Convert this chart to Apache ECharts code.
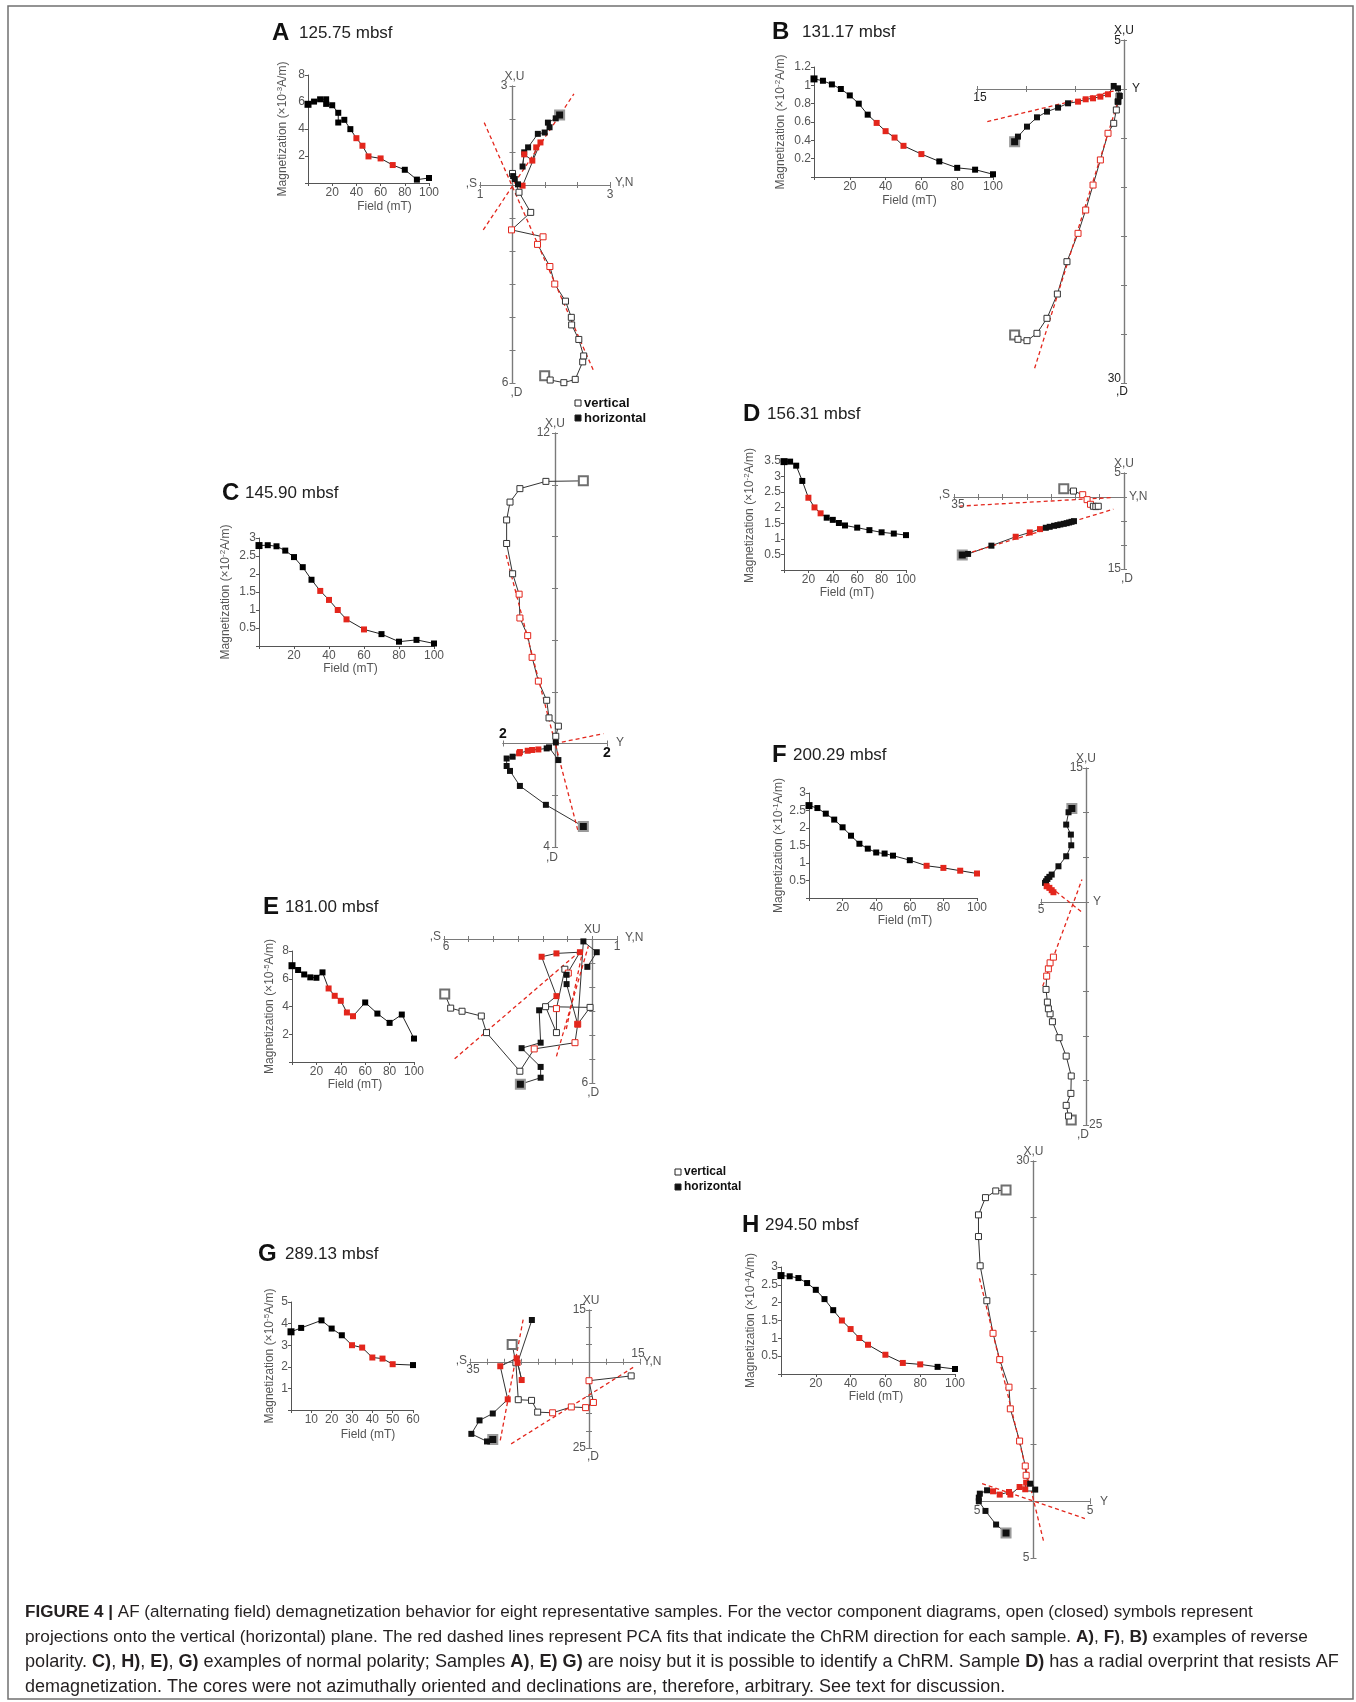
<!DOCTYPE html>
<html>
<head>
<meta charset="utf-8">
<title>Figure 4 – AF demagnetization behaviour</title>
<script src="https://cdn.jsdelivr.net/npm/echarts@6/dist/echarts.min.js"></script>
<style>
html, body { margin: 0; padding: 0; background: #fff; }
#fig { width: 1356px; height: 1702px; }
</style>
</head>
<body>
<div id="fig"></div>
<script>
// ================= measured data =================
// AF steps (mT) shared by most samples
const afSteps = [0, 5, 10, 15, 20, 25, 30, 35, 40, 45, 50, 60, 70, 80, 90, 100];

// --- A: 125.75 mbsf ---
const fieldA = [0, 5, 10, 15, 15, 20, 25, 25, 30, 35, 40, 45, 50, 60, 70, 80, 90, 100];
const magA = [5.83, 6.03, 6.2, 6.2, 5.86, 5.76, 5.2, 4.48, 4.68, 3.99, 3.32, 2.76, 1.97, 1.82, 1.33, 0.98, 0.25, 0.37];
const pcaA = [40, 45, 50, 60, 70];
const horizA = [[1.45, 2.12, 0], [1.33, 2.02, 0], [1.09, 1.89, 0], [1.14, 1.75, 0], [0.99, 1.59, 0], [0.78, 1.55, 0], [0.48, 1.14, 0], [0.36, 0.99, 0], [0.31, 0.56, 0], [0.36, 0.93, 1], [0.61, 0.74, 1], [0.73, 1.14, 1], [0.86, 1.29, 1], [0.31, -0.02, 1], [0.17, 0.02, 0], [0.07, 0.18, 0], [0.02, 0.27, 0]];
const vertA = [[0.99, -5.78, 0], [1.16, -5.91, 0], [1.58, -5.99, 0], [1.93, -5.89, 0], [2.16, -5.36, 0], [2.19, -5.18, 0], [2.04, -4.68, 0], [1.82, -4.24, 0], [1.81, -4.01, 0], [1.63, -3.52, 0], [1.30, -3.00, 1], [1.15, -2.47, 1], [0.77, -1.80, 1], [0.94, -1.57, 1], [-0.03, -1.36, 1], [0.56, -0.83, 0], [0.20, -0.22, 0], [0.00, 0.35, 0]];
const fitA = [[[-0.90, -1.36], [1.89, 2.76]], [[-0.87, 1.89], [2.50, -5.64]]];

// --- B: 131.17 mbsf ---
const magB = [1.07, 1.05, 1.01, 0.96, 0.89, 0.80, 0.68, 0.59, 0.50, 0.43, 0.34, 0.25, 0.17, 0.10, 0.08, 0.03];
const pcaB = [35, 40, 45, 50, 60];
const horizB = [[-11.16, -5.37, 0], [-10.82, -4.86, 0], [-9.90, -3.84, 0], [-8.88, -2.89, 0], [-7.86, -2.31, 0], [-6.73, -1.90, 0], [-5.71, -1.46, 0], [-4.69, -1.29, 1], [-3.91, -1.05, 1], [-3.16, -0.95, 1], [-2.41, -0.78, 1], [-1.63, -0.54, 1], [-1.05, 0.31, 0], [-0.61, 0.07, 0], [-0.44, -0.71, 0], [-0.61, -1.29, 0]];
const vertB = [[-11.16, -25.1, 0], [-10.82, -25.54, 0], [-9.90, -25.68, 0], [-8.88, -24.93, 0], [-7.86, -23.40, 0], [-6.80, -20.92, 0], [-5.82, -17.62, 0], [-4.69, -14.73, 1], [-3.91, -12.35, 1], [-3.16, -9.80, 1], [-2.41, -7.24, 1], [-1.63, -4.52, 1], [-1.05, -3.50, 0], [-0.78, -2.14, 0], [-0.61, -1.29, 0], [-0.51, -0.71, 0]];
const fitB = [[[-13.95, -3.33], [-0.61, -0.10]], [[-9.12, -28.5], [-0.51, -0.95]]];

// --- C: 145.90 mbsf ---
const magC = [2.79, 2.80, 2.77, 2.65, 2.47, 2.19, 1.84, 1.53, 1.28, 1.00, 0.74, 0.46, 0.33, 0.12, 0.17, 0.07];
const pcaC = [35, 40, 45, 50, 60];
const horizC = [[1.09, -3.21, 0], [-0.35, -2.37, 0], [-1.35, -1.64, 0], [-1.73, -1.06, 0], [-1.86, -0.87, 0], [-1.86, -0.58, 0], [-1.63, -0.51, 0], [-1.38, -0.38, 1], [-1.35, -0.33, 1], [-1.05, -0.28, 1], [-0.88, -0.25, 1], [-0.64, -0.23, 1], [-0.32, -0.19, 0], [-0.23, -0.15, 0], [0.13, -0.64, 0], [0.03, 0.04, 0]];
const vertC = [[1.09, 10.15, 0], [-0.35, 10.13, 0], [-1.35, 9.85, 0], [-1.73, 9.33, 0], [-1.86, 8.64, 0], [-1.86, 7.73, 0], [-1.63, 6.56, 0], [-1.38, 5.77, 1], [-1.35, 4.85, 1], [-1.05, 4.17, 1], [-0.88, 3.33, 1], [-0.64, 2.41, 1], [-0.32, 1.67, 0], [-0.23, 0.99, 0], [0.13, 0.67, 0], [0.03, 0.28, 0]];
const fitC = [[[-1.88, 7.28], [0.90, -3.44]], [[0, 0], [1.86, 0.38]]];

// --- D: 156.31 mbsf ---
const magD = [3.48, 3.48, 3.35, 2.86, 2.32, 2.01, 1.82, 1.68, 1.61, 1.51, 1.43, 1.36, 1.28, 1.21, 1.17, 1.12];
const pcaD = [20, 25, 30];
const horizD = [[-33.3, -12.07, 0], [-32.1, -11.86, 0], [-27.3, -10.14, 0], [-22.3, -8.28, 1], [-19.4, -7.38, 1], [-17.3, -6.69, 1], [-16.1, -6.41, 0], [-15.3, -6.21, 0], [-14.4, -6.0, 0], [-13.7, -5.86, 0], [-13.1, -5.72, 0], [-12.4, -5.59, 0], [-11.8, -5.45, 0], [-11.3, -5.31, 0], [-10.8, -5.17, 0], [-10.3, -5.03, 0]];
const vertD = [[-12.4, 1.72, 0], [-10.4, 1.24, 0], [-8.5, 0.48, 1], [-7.6, -0.55, 1], [-6.9, -1.52, 1], [-6.3, -1.93, 0], [-5.8, -2.0, 0], [-5.3, -1.93, 0]];
const fitD = [[[-33.8, -1.9], [-2.2, -0.1]], [[-34.0, -12.3], [-2.2, -2.55]]];

// --- E: 181.00 mbsf ---
const magE = [6.94, 6.63, 6.31, 6.10, 6.07, 6.46, 5.30, 4.77, 4.41, 3.57, 3.30, 4.29, 3.49, 2.82, 3.42, 1.69];
const pcaE = [30, 35, 40, 45, 50];
const horizE = [[-2.91, -6.05, 0], [-2.09, -5.78, 0], [-2.09, -5.33, 0], [-2.86, -4.55, 0], [-2.09, -4.32, 0], [-2.15, -2.97, 0], [-1.45, -2.38, 1], [-2.05, -0.74, 1], [-1.45, -0.60, 1], [-0.50, -0.55, 1], [-1.04, -1.49, 0], [-1.04, -1.88, 0], [-0.59, -3.55, 1], [-0.36, -0.10, 0], [0.18, -0.55, 0], [-0.20, -1.16, 0]];
const vertE = [[-5.97, -2.29, 0], [-5.73, -2.88, 0], [-5.27, -3.01, 0], [-4.49, -3.21, 0], [-4.28, -3.90, 0], [-2.93, -5.51, 0], [-2.35, -4.58, 1], [-0.70, -4.32, 1], [-0.59, -3.55, 1], [-0.09, -2.85, 0], [-1.89, -2.82, 0], [-1.45, -3.90, 0], [-1.45, -2.90, 1], [-1.11, -1.26, 0], [-0.97, -1.42, 1]];
const fitE = [[[-5.57, -4.99], [-0.50, -0.51]], [[-1.45, -4.89], [-0.16, -0.30]], [[-1.05, -3.75], [-0.40, -0.55]]];

// --- F: 200.29 mbsf ---
const magF = [2.64, 2.57, 2.41, 2.24, 2.02, 1.78, 1.55, 1.41, 1.30, 1.27, 1.21, 1.08, 0.92, 0.86, 0.78, 0.70];
const pcaF = [70, 80, 90, 100];
const horizF = [[-1.57, 10.45, 0], [-1.94, 10.04, 0], [-2.20, 8.66, 0], [-1.68, 7.54, 0], [-1.64, 6.34, 0], [-2.20, 5.11, 0], [-3.06, 3.99, 0], [-3.81, 3.06, 0], [-4.07, 2.80, 0], [-4.29, 2.57, 0], [-4.44, 2.31, 0], [-4.55, 2.13, 0], [-4.37, 1.75, 1], [-4.07, 1.57, 1], [-3.81, 1.31, 1], [-3.62, 1.08, 1]];
const vertF = [[-1.64, -24.44, 0], [-1.94, -23.99, 0], [-2.20, -22.80, 0], [-1.68, -21.46, 0], [-1.64, -19.51, 0], [-2.20, -17.28, 0], [-2.99, -15.22, 0], [-3.73, -13.43, 0], [-3.99, -12.54, 0], [-4.18, -11.98, 0], [-4.29, -11.23, 0], [-4.44, -9.81, 0], [-4.37, -8.32, 1], [-4.18, -7.50, 1], [-3.99, -6.83, 1], [-3.62, -6.19, 1]];
const fitF = [[[-4.81, -9.44], [-0.45, 2.5]], [[-4.55, 2.13], [-0.45, -1.16]]];

// --- G: 289.13 mbsf ---
const fieldG = [0, 5, 15, 20, 25, 30, 35, 40, 45, 50, 60];
const magG = [3.62, 3.80, 4.15, 3.77, 3.46, 3.00, 2.89, 2.43, 2.38, 2.12, 2.08];
const pcaG = [30, 35, 40, 45, 50];
const horizG = [[-28.3, -22.5, 0], [-30.0, -23.1, 0], [-34.6, -20.9, 0], [-32.2, -17.0, 0], [-28.3, -15.0, 0], [-23.9, -10.9, 1], [-26.1, -1.3, 1], [-21.3, 1.0, 1], [-19.8, -5.3, 1], [-21.0, -0.3, 1], [-16.8, 12.1, 0]];
const vertG = [[-22.6, 5.0, 0], [-21.5, -0.3, 0], [-20.8, -11.0, 0], [-16.9, -11.2, 0], [-15.1, -14.6, 0], [-10.7, -14.8, 1], [-5.2, -13.1, 1], [-1.0, -13.3, 1], [1.3, -11.8, 1], [0.0, -5.5, 1], [12.4, -4.1, 0]];
const fitG = [[[-26.1, -22.8], [-19.2, 13.1]], [[-22.9, -23.8], [13.2, -1.5]]];

// --- H: 294.50 mbsf ---
const magH = [2.76, 2.74, 2.69, 2.55, 2.36, 2.10, 1.79, 1.50, 1.26, 1.01, 0.82, 0.54, 0.31, 0.27, 0.20, 0.14];
const pcaH = [35, 40, 45, 50, 60, 70, 80];
const horizH = [[-2.43, -2.79, 0], [-3.31, -2.05, 0], [-4.25, -0.85, 0], [-4.84, 0.0, 0], [-4.84, 0.32, 0], [-4.75, 0.67, 0], [-4.11, 0.97, 0], [-3.58, 0.88, 1], [-2.99, 0.59, 1], [-2.17, 0.82, 1], [-2.05, 0.59, 1], [-1.23, 1.26, 1], [-0.73, 1.06, 1], [-0.65, 1.64, 1], [-0.29, 1.55, 0], [0.15, 1.03, 0]];
const vertH = [[-2.43, 27.45, 0], [-3.34, 27.36, 0], [-4.25, 26.77, 0], [-4.87, 25.25, 0], [-4.87, 23.34, 0], [-4.72, 20.76, 0], [-4.13, 17.68, 0], [-3.58, 14.81, 1], [-2.99, 12.49, 1], [-2.17, 10.06, 1], [-2.05, 8.15, 1], [-1.23, 5.31, 1], [-0.73, 3.11, 1], [-0.65, 2.29, 1], [-0.44, 1.47, 0], [-0.29, 1.17, 0]];
const fitH = [[[-4.78, 19.65], [0.94, -3.72]], [[-4.55, 1.55], [4.55, -1.52]]];

// ================= layout =================
const RED = '#e3261c';
const FONT = '"Liberation Sans", Arial, Helvetica, sans-serif';

// int: intensity-decay plot box; zij: vector component plot box and axis ranges
// label rows: [text, x, y (axis units), dx, dy, align, verticalAlign, bold]
const panels = [
  { id: 'A', depth: '125.75 mbsf', exp: '-3', title: [272, 33, 299],
    field: fieldA, mag: magA, pca: pcaA, horiz: horizA, vert: vertA, fits: fitA,
    int: { left: 308, top: 75, width: 121, height: 108, xMax: 100, xStep: 20, yMax: 8, yStep: 2, gapX: 18, shiftX: 16, gapY: 18 },
    zij: { left: 480, top: 86, width: 130, height: 297, x: [-1, 3, 1], y: [-6, 3, 1],
      labels: [[',S', -1, 0, -3, -1, 'right', 'middle'], ['1', -1, 0, 0, 4, 'center', 'top'], ['Y,N', 3, 0, 5, -2, 'left', 'middle'], ['3', 3, 0, 0, 4, 'center', 'top'],
               ['X,U', 0, 3, 2, -3, 'center', 'bottom'], ['3', 0, 3, -5, 0, 'right', 'middle'], ['6', 0, -6, -4, 0, 'right', 'middle'], [',D', 0, -6, 4, 4, 'center', 'top']] } },
  { id: 'B', depth: '131.17 mbsf', exp: '-2', title: [772, 32, 802],
    field: afSteps, mag: magB, pca: pcaB, horiz: horizB, vert: vertB, fits: fitB,
    int: { left: 814, top: 67, width: 179, height: 110, xMax: 100, xStep: 20, yMax: 1.2, yStep: 0.2, gapX: 18, shiftX: 6, gapY: 26 },
    zij: { left: 977, top: 40, width: 147, height: 343, x: [-15, 0, 5], y: [-30, 5, 5], color: '#222',
      labels: [['X,U', 0, 5, 0, -3, 'center', 'bottom'], ['5', 0, 5, -3, 1, 'right', 'middle'], ['Y', 0, 0, 8, 0, 'left', 'middle'], ['15', -15, 0, 3, 3, 'center', 'top'],
               ['30', 0, -30, -3, -4, 'right', 'middle'], [',D', 0, -30, -2, 3, 'center', 'top']] } },
  { id: 'C', depth: '145.90 mbsf', exp: '-2', title: [222, 493, 245],
    field: afSteps, mag: magC, pca: pcaC, horiz: horizC, vert: vertC, fits: fitC,
    int: { left: 259, top: 538, width: 175, height: 108, xMax: 100, xStep: 20, yMax: 3, yStep: 0.5, gapX: 16, shiftX: 4, gapY: 26 },
    zij: { left: 503, top: 433, width: 104, height: 414, x: [-2, 2, 2], y: [-4, 12, 2],
      labels: [['X,U', 0, 12, 0, -3, 'center', 'bottom'], ['12', 0, 12, -5, 0, 'right', 'middle'], ['2', -2, 0, 0, -2, 'center', 'bottom', 1], ['2', 2, 0, 0, 3, 'center', 'top', 1],
               ['Y', 2, 0, 9, -1, 'left', 'middle'], ['4', 0, -4, -5, 0, 'right', 'middle'], [',D', 0, -4, -3, 5, 'center', 'top']] } },
  { id: 'D', depth: '156.31 mbsf', exp: '-2', title: [743, 414, 767],
    field: afSteps, mag: magD, pca: pcaD, horiz: horizD, vert: vertD, fits: fitD,
    int: { left: 784, top: 461, width: 122, height: 109, xMax: 100, xStep: 20, yMax: 3.5, yStep: 0.5, gapX: 16, shiftX: 2, gapY: 27 },
    zij: { left: 954, top: 473, width: 170, height: 96, x: [-35, 0, 5], y: [-15, 5, 5],
      labels: [[',S', -35, 0, -4, -2, 'right', 'middle'], ['35', -35, 0, 4, 2, 'center', 'top'], ['Y,N', 0, 0, 5, 0, 'left', 'middle'], ['X,U', 0, 5, 0, -3, 'center', 'bottom'],
               ['5', 0, 5, -3, 0, 'right', 'middle'], ['15', 0, -15, -3, 0, 'right', 'middle'], [',D', 0, -15, 3, 4, 'center', 'top']] } },
  { id: 'E', depth: '181.00 mbsf', exp: '-5', title: [263, 907, 285],
    field: afSteps, mag: magE, pca: pcaE, horiz: horizE, vert: vertE, fits: fitE,
    int: { left: 292, top: 951, width: 122, height: 111, xMax: 100, xStep: 20, yMax: 8, yStep: 2, gapX: 9, shiftX: 2, gapY: 15 },
    zij: { left: 444, top: 939, width: 173, height: 144, x: [-6, 1, 1], y: [-6, 0, 1],
      labels: [[',S', -6, 0, -3, -2, 'right', 'middle'], ['6', -6, 0, 2, 2, 'center', 'top'], ['XU', 0, 0, 0, -3, 'center', 'bottom'], ['1', 1, 0, 0, 2, 'center', 'top'],
               ['Y,N', 1, 0, 8, -1, 'left', 'middle'], ['6', 0, -6, -4, 0, 'right', 'middle'], [',D', 0, -6, 1, 4, 'center', 'top']] } },
  { id: 'F', depth: '200.29 mbsf', exp: '-1', title: [772, 755, 793],
    field: afSteps, mag: magF, pca: pcaF, horiz: horizF, vert: vertF, fits: fitF,
    int: { left: 809, top: 793, width: 168, height: 105, xMax: 100, xStep: 20, yMax: 3, yStep: 0.5, gapX: 16, shiftX: 12, gapY: 22 },
    zij: { left: 1041, top: 768, width: 45, height: 357, x: [-5, 0, 5], y: [-25, 15, 5],
      labels: [['X,U', 0, 15, 0, -3, 'center', 'bottom'], ['15', 0, 15, -3, 0, 'right', 'middle'], ['Y', 0, 0, 7, 0, 'left', 'middle'], ['5', -5, 0, 0, 2, 'center', 'top'],
               ['25', 0, -25, 3, 0, 'left', 'middle'], [',D', 0, -25, -3, 4, 'center', 'top']] } },
  { id: 'G', depth: '289.13 mbsf', exp: '-5', title: [258, 1254, 285],
    field: fieldG, mag: magG, pca: pcaG, horiz: horizG, vert: vertG, fits: fitG,
    int: { left: 291, top: 1302, width: 122, height: 108, xMax: 60, xStep: 10, yMax: 5, yStep: 1, gapX: 19, shiftX: 16, gapY: 14 },
    zij: { left: 470, top: 1310, width: 170, height: 138, x: [-35, 15, 5], y: [-25, 15, 5],
      labels: [['XU', 0, 15, 2, -3, 'center', 'bottom'], ['15', 0, 15, -3, 0, 'right', 'middle'], [',S', -35, 0, -3, -1, 'right', 'middle'], ['35', -35, 0, 3, 2, 'center', 'top'],
               ['15', 15, 0, -2, -2, 'center', 'bottom'], ['Y,N', 15, 0, 3, 0, 'left', 'middle'], ['25', 0, -25, -3, 0, 'right', 'middle'], [',D', 0, -25, 4, 3, 'center', 'top']] } },
  { id: 'H', depth: '294.50 mbsf', exp: '-4', title: [742, 1225, 765],
    field: afSteps, mag: magH, pca: pcaH, horiz: horizH, vert: vertH, fits: fitH,
    int: { left: 781, top: 1267, width: 174, height: 107, xMax: 100, xStep: 20, yMax: 3, yStep: 0.5, gapX: 17, shiftX: 8, gapY: 23 },
    zij: { left: 977, top: 1161, width: 113, height: 397, x: [-5, 5, 5], y: [-5, 30, 5],
      labels: [['X,U', 0, 30, 0, -3, 'center', 'bottom'], ['30', 0, 30, -4, 0, 'right', 'middle'], ['5', -5, 0, 0, 3, 'center', 'top'], ['5', 5, 0, 0, 3, 'center', 'top'],
               ['Y', 5, 0, 10, 0, 'left', 'middle'], ['5', 0, -5, -4, 0, 'right', 'middle']] } }
];

// ================= build option =================
const grids = [], xAxes = [], yAxes = [], series = [], zijRefs = [];
const INT_AXIS = '#555';
const ZIJ_AXIS = '#7a7a7a';

function tickFmt(v) { return v === 0 ? '' : String(+v.toFixed(2)); }

function zijItem(pt, i, open) {
  const fit = pt[2] === 1, nrm = i === 0;
  if (open) {
    return { value: [pt[0], pt[1]], symbolSize: nrm ? 9 : 6,
      itemStyle: { color: '#fff', borderColor: nrm ? '#6f6f6f' : (fit ? RED : '#333'), borderWidth: nrm ? 2 : 1 } };
  }
  return { value: [pt[0], pt[1]], symbolSize: nrm ? 9 : 6,
    itemStyle: { color: fit ? RED : '#111', borderColor: nrm ? '#9a9a9a' : (fit ? RED : '#111'), borderWidth: nrm ? 2 : 0 } };
}

panels.forEach(p => {
  // ---- intensity decay plot ----
  const L = p.int;
  const gi = grids.length;
  grids.push({ left: L.left, top: L.top, width: L.width, height: L.height });
  const xi = xAxes.length, yi = yAxes.length;
  xAxes.push({
    gridIndex: gi, type: 'value', min: 0, max: L.xMax, interval: L.xStep,
    axisLine: { onZero: false, lineStyle: { color: INT_AXIS, width: 1 } },
    axisTick: { length: 3, lineStyle: { color: INT_AXIS } },
    axisLabel: { color: '#555', fontSize: 12, margin: 4, formatter: tickFmt },
    splitLine: { show: false },
    name: 'Field (mT)', nameLocation: 'middle', nameGap: L.gapX,
    nameTextStyle: { color: '#555', fontSize: 12, padding: [0, 0, 0, 2 * L.shiftX] }
  });
  yAxes.push({
    gridIndex: gi, type: 'value', min: 0, max: L.yMax, interval: L.yStep,
    axisLine: { onZero: false, lineStyle: { color: INT_AXIS, width: 1 } },
    axisTick: { length: 3, lineStyle: { color: INT_AXIS } },
    axisLabel: { color: '#555', fontSize: 12, margin: 3, formatter: tickFmt },
    splitLine: { show: false },
    name: 'Magnetization (×10{s|' + p.exp + '}A/m)', nameLocation: 'middle', nameGap: L.gapY,
    nameTextStyle: { color: '#555', fontSize: 12, lineHeight: 14,
      rich: { s: { fontSize: 8, lineHeight: 8, verticalAlign: 'top', color: '#555' } } }
  });
  series.push({
    type: 'line', xAxisIndex: xi, yAxisIndex: yi, symbol: 'rect', showAllSymbol: true,
    clip: false, silent: true, lineStyle: { color: '#222', width: 1 },
    data: p.field.map((f, i) => ({ value: [f, p.mag[i]], symbolSize: i === 0 ? 7 : 6,
      itemStyle: { color: p.pca.indexOf(f) >= 0 ? RED : '#000' } }))
  });

  // ---- vector component (Zijderveld) plot ----
  const Z = p.zij;
  const gz = grids.length;
  grids.push({ left: Z.left, top: Z.top, width: Z.width, height: Z.height });
  const zx = xAxes.length, zy = yAxes.length;
  const base = (rng) => ({ type: 'value', min: rng[0], max: rng[1], interval: rng[2],
    axisTick: { length: 3, lineStyle: { color: ZIJ_AXIS } }, axisLabel: { show: false }, splitLine: { show: false } });
  // paired axes on both sides give ticks that cross the axis line
  ['bottom', 'top'].forEach(pos => xAxes.push(Object.assign(base(Z.x), { gridIndex: gz, position: pos,
    axisLine: { onZero: true, onZeroAxisIndex: zy, lineStyle: { color: ZIJ_AXIS, width: 1.2 } } })));
  ['left', 'right'].forEach(pos => yAxes.push(Object.assign(base(Z.y), { gridIndex: gz, position: pos,
    axisLine: { onZero: true, onZeroAxisIndex: zx, lineStyle: { color: ZIJ_AXIS, width: 1.2 } } })));
  zijRefs.push({ p, xi: zx, yi: zy });

  series.push({ type: 'line', xAxisIndex: zx, yAxisIndex: zy, symbol: 'rect', showAllSymbol: true,
    clip: false, silent: true, lineStyle: { color: '#333', width: 1 },
    data: p.vert.map((pt, i) => zijItem(pt, i, true)) });
  series.push({ type: 'line', xAxisIndex: zx, yAxisIndex: zy, symbol: 'rect', showAllSymbol: true,
    clip: false, silent: true, lineStyle: { color: '#333', width: 1 },
    data: p.horiz.map((pt, i) => zijItem(pt, i, false)) });
  p.fits.forEach(seg => series.push({ type: 'line', xAxisIndex: zx, yAxisIndex: zy, symbol: 'none',
    clip: false, silent: true, z: 3, lineStyle: { color: RED, width: 1.3, type: [4, 3] }, data: seg }));
});

const chart = echarts.init(document.getElementById('fig'), null, { renderer: 'canvas', width: 1356, height: 1702 });
chart.setOption({
  animation: false,
  backgroundColor: '#ffffff',
  textStyle: { fontFamily: FONT },
  grid: grids, xAxis: xAxes, yAxis: yAxes, series: series
});

// ================= annotations =================
function txt(t, x, y, o) {
  o = o || {};
  return { type: 'text', x: x, y: y, silent: true, z: 10,
    style: { text: t, fill: o.fill || '#222', fontFamily: FONT, fontSize: o.size || 12,
      fontWeight: o.bold ? 'bold' : 'normal', align: o.align || 'left', verticalAlign: o.va || 'middle',
      textAlign: o.align || 'left', textVerticalAlign: o.va || 'middle', rich: o.rich } };
}
function square(x, y, open) {
  return { type: 'rect', silent: true, z: 10, shape: { x: x - 3, y: y - 3, width: 6, height: 6 },
    style: { fill: open ? '#fff' : '#111', stroke: '#222', lineWidth: 1 } };
}

const gfx = [];
// figure frame
gfx.push({ type: 'rect', silent: true, z: 0, shape: { x: 8, y: 6, width: 1345, height: 1693 },
  style: { fill: 'none', stroke: '#707070', lineWidth: 1.5 } });

// panel titles
panels.forEach(p => {
  gfx.push(txt(p.id, p.title[0], p.title[1], { size: 24, bold: true, fill: '#111' }));
  gfx.push(txt(p.depth, p.title[2], p.title[1], { size: 17, fill: '#222' }));
});

// axis end labels of the vector component plots
zijRefs.forEach(({ p, xi, yi }) => {
  p.zij.labels.forEach(([t, x, y, dx, dy, align, va, bold]) => {
    const pt = chart.convertToPixel({ xAxisIndex: xi, yAxisIndex: yi }, [x, y]);
    gfx.push(txt(t, pt[0] + dx, pt[1] + dy, { align: align, va: va, bold: !!bold,
      size: bold ? 14 : 12, fill: bold ? '#111' : (p.zij.color || '#555') }));
  });
});

// symbol keys
[[578, 403, 13], [678, 1172, 12]].forEach(([x, y, fs]) => {
  gfx.push(square(x, y, true));
  gfx.push(txt('vertical', x + 6, y, { bold: true, size: fs, fill: '#111' }));
  gfx.push(square(x, y + 15, false));
  gfx.push(txt('horizontal', x + 6, y + 15, { bold: true, size: fs, fill: '#111' }));
});

// caption (one entry per printed line, with its set size)
const caption = [
  ['{b|FIGURE 4 |} AF (alternating field) demagnetization behavior for eight representative samples. For the vector component diagrams, open (closed) symbols represent', 17.05],
  ['projections onto the vertical (horizontal) plane. The red dashed lines represent PCA fits that indicate the ChRM direction for each sample. {b|A)}, {b|F)}, {b|B)} examples of reverse', 17.25],
  ['polarity. {b|C)}, {b|H)}, {b|E)}, {b|G)} examples of normal polarity; Samples {b|A)}, {b|E) G)} are noisy but it is possible to identify a ChRM. Sample {b|D)} has a radial overprint that resists AF', 18.1],
  ['demagnetization. The cores were not azimuthally oriented and declinations are, therefore, arbitrary. See text for discussion.', 18.0]
];
caption.forEach(([line, fs], i) => gfx.push(txt(line, 25, 1612 + i * 25, { size: fs, fill: '#231f20',
  rich: { b: { fontWeight: 'bold', fontSize: fs, fontFamily: FONT, fill: '#231f20' } } })));

chart.setOption({ graphic: gfx });
</script>
</body>
</html>
